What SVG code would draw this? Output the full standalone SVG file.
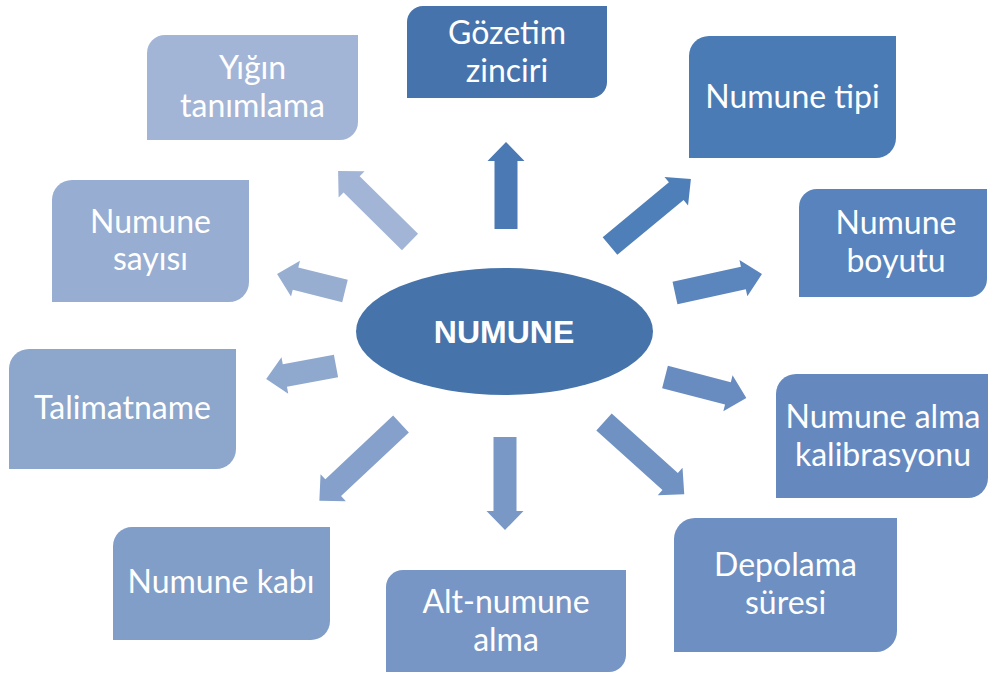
<svg xmlns="http://www.w3.org/2000/svg" width="988" height="673" viewBox="0 0 988 673">
<style>
.t{font-family:Lato,"Open Sans","Liberation Sans",sans-serif;font-size:32px;fill:#fff;text-anchor:middle}
.c{font-family:"Liberation Sans",Arial,sans-serif;font-size:32px;font-weight:bold;fill:#fff;text-anchor:middle}
</style>
<rect width="988" height="673" fill="#fff"/>
<g id="connectors">
<polygon fill="#4a79b4" transform="translate(506,229) rotate(-90)" points="0,-11.5 68,-11.5 68,-18.5 87,0 68,18.5 68,11.5 0,11.5"/>
<polygon fill="#4f7fb9" transform="translate(610,246) rotate(-39.6)" points="0,-11.5 86,-11.5 86,-18.5 105,0 86,18.5 86,11.5 0,11.5"/>
<polygon fill="#5a85bd" transform="translate(675,293) rotate(-12.3)" points="0,-11.5 70,-11.5 70,-18.5 89,0 70,18.5 70,11.5 0,11.5"/>
<polygon fill="#688cc0" transform="translate(665,377) rotate(14.5)" points="0,-11.5 65,-11.5 65,-18.5 84,0 65,18.5 65,11.5 0,11.5"/>
<polygon fill="#6f92c3" transform="translate(604,422) rotate(42)" points="0,-11.5 89,-11.5 89,-18.5 108,0 89,18.5 89,11.5 0,11.5"/>
<polygon fill="#7998c6" transform="translate(505,437) rotate(90)" points="0,-11.5 74,-11.5 74,-18.5 93,0 74,18.5 74,11.5 0,11.5"/>
<polygon fill="#85a1cb" transform="translate(401,424) rotate(136.8)" points="0,-11.5 93,-11.5 93,-18.5 112,0 93,18.5 93,11.5 0,11.5"/>
<polygon fill="#8fa9ce" transform="translate(336,366) rotate(169.5)" points="0,-11.5 52,-11.5 52,-18.5 71,0 52,18.5 52,11.5 0,11.5"/>
<polygon fill="#98aed1" transform="translate(345,291) rotate(-166)" points="0,-11.5 51,-11.5 51,-18.5 70,0 51,18.5 51,11.5 0,11.5"/>
<polygon fill="#a3b5d6" transform="translate(410,242) rotate(-135.4)" points="0,-11.5 82,-11.5 82,-18.5 101,0 82,18.5 82,11.5 0,11.5"/>
</g>
<g id="center">
<ellipse cx="504.5" cy="331.5" rx="148.5" ry="63.5" fill="#4673aa"/>
<text class="c" x="504" y="343">NUMUNE</text>
</g>
<g id="yigin">
<path fill="#a3b5d6" d="M165,35 H358 V122 A18,18 0 0 1 340,140 H147 V53 A18,18 0 0 1 165,35 Z"/>
<text class="t" x="252.5" y="79">Yığın</text>
<text class="t" x="252.5" y="117">tanımlama</text>
</g>
<g id="gozetim">
<path fill="#4773ac" d="M423,6 H607 V82 A16,16 0 0 1 591,98 H407 V22 A16,16 0 0 1 423,6 Z"/>
<text class="t" x="507" y="44">Gözetim</text>
<text class="t" x="507" y="82">zinciri</text>
</g>
<g id="tipi">
<path fill="#4b7bb5" d="M709,36 H896 V138 A20,20 0 0 1 876,158 H689 V56 A20,20 0 0 1 709,36 Z"/>
<text class="t" x="792.5" y="108">Numune tipi</text>
</g>
<g id="boyutu">
<path fill="#5883bc" d="M817,189 H987 V279 A18,18 0 0 1 969,297 H799 V207 A18,18 0 0 1 817,189 Z"/>
<text class="t" x="896" y="234">Numune</text>
<text class="t" x="896" y="272">boyutu</text>
</g>
<g id="kalibrasyon">
<path fill="#6589be" d="M796,374 H988 V478 A20,20 0 0 1 968,498 H776 V394 A20,20 0 0 1 796,374 Z"/>
<text class="t" x="883" y="428">Numune alma</text>
<text class="t" x="883" y="466">kalibrasyonu</text>
</g>
<g id="depolama">
<path fill="#6d8fc1" d="M695,518 H897 V631 A21,21 0 0 1 876,652 H674 V539 A21,21 0 0 1 695,518 Z"/>
<text class="t" x="785.5" y="576">Depolama</text>
<text class="t" x="785.5" y="614">süresi</text>
</g>
<g id="altnumune">
<path fill="#7896c5" d="M403,570 H626 V655 A17,17 0 0 1 609,672 H386 V587 A17,17 0 0 1 403,570 Z"/>
<text class="t" x="506" y="613">Alt-numune</text>
<text class="t" x="506" y="651">alma</text>
</g>
<g id="kabi">
<path fill="#819ec9" d="M132,527 H330 V621 A19,19 0 0 1 311,640 H113 V546 A19,19 0 0 1 132,527 Z"/>
<text class="t" x="221" y="593">Numune kabı</text>
</g>
<g id="talimatname">
<path fill="#8ca6cc" d="M29,349 H236 V449 A20,20 0 0 1 216,469 H9 V369 A20,20 0 0 1 29,349 Z"/>
<text class="t" x="122.5" y="419">Talimatname</text>
</g>
<g id="sayisi">
<path fill="#97add1" d="M72,180 H249 V282 A20,20 0 0 1 229,302 H52 V200 A20,20 0 0 1 72,180 Z"/>
<text class="t" x="150.5" y="233">Numune</text>
<text class="t" x="150.5" y="270">sayısı</text>
</g>
</svg>
